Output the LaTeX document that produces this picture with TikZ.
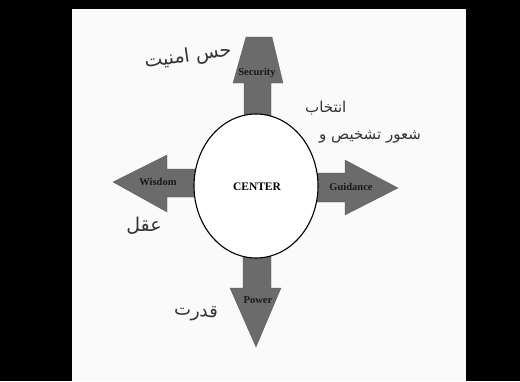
\documentclass[tikz,border=0pt]{standalone}
\usepackage{fontspec}
\setmainfont{Liberation Serif}
\newfontfamily\arabicfont[Script=Arabic]{DejaVu Sans}
\TeXXeTstate=1
\usetikzlibrary{shapes.geometric}
\tikzset{
  bigarrow/.style={fill=black!58, draw=black!65, line width=0.3pt},
  armlabel/.style={font=\bfseries\fontsize{10.5}{12}\selectfont, text=black!90},
  handnote/.style={font=\arabicfont, text=black!80}
}

\begin{document}
\begin{tikzpicture}[x=1pt,y=-1pt]
        \useasboundingbox (0,0) rectangle (520,381);
        \fill[black] (0,0) rectangle (520,381);
        \fill[black!2] (72,9) rectangle (466,381);
        % the four arrows, under the circle
        \draw[bigarrow] (244,125) -- (244,83) -- (233,83) -- (246,37) -- (272,37) -- (283,83) -- (271,83) -- (271,125) -- cycle; \draw[bigarrow] (243,245) -- (243,288) -- (230,288) -- (256,347) -- (281,288) -- (271,288) -- (271,245) -- cycle; \draw[bigarrow] (205,169) -- (167,169) -- (167,155) -- (113,182) -- (167,212) -- (167,197) -- (205,197) -- cycle; \draw[bigarrow] (305,173) -- (345,173) -- (345,160) -- (398,188) -- (345,215) -- (345,202) -- (305,202) -- cycle;
        \node[ellipse, draw, line width=1.1pt, fill=white, minimum width=124pt, minimum height=144pt, inner sep=0pt] (center) at (256,186) {};
        \node[font=\bfseries\fontsize{11.5}{13}\selectfont] (centerlabel) at (257,187) {CENTER};
        \node[armlabel] (security) at (257,73) {Security}; \node[armlabel] (wisdom) at (158,182) {Wisdom}; \node[armlabel] (guidance) at (351,187) {Guidance}; \node[armlabel] (power) at (258,300) {Power};
        % handwritten notes
        \node[handnote, font=\arabicfont\fontsize{19}{22}\selectfont, rotate=8] (amniyat) at (188,57) {\beginR حس امنیت\endR};
        \node[handnote, font=\arabicfont\fontsize{15}{27}\selectfont, align=left] (shoor) at (363,122) {\beginR انتخاب\endR\\ \hspace*{14pt}\beginR شعور تشخیص و\endR};
        \node[handnote, font=\arabicfont\fontsize{19}{22}\selectfont] (aghl) at (144,226) {\beginR عقل\endR};
        \node[handnote, font=\arabicfont\fontsize{18}{22}\selectfont, rotate=-5] (ghodrat) at (196,313) {\beginR قدرت\endR};
\end{tikzpicture}
\end{document}
